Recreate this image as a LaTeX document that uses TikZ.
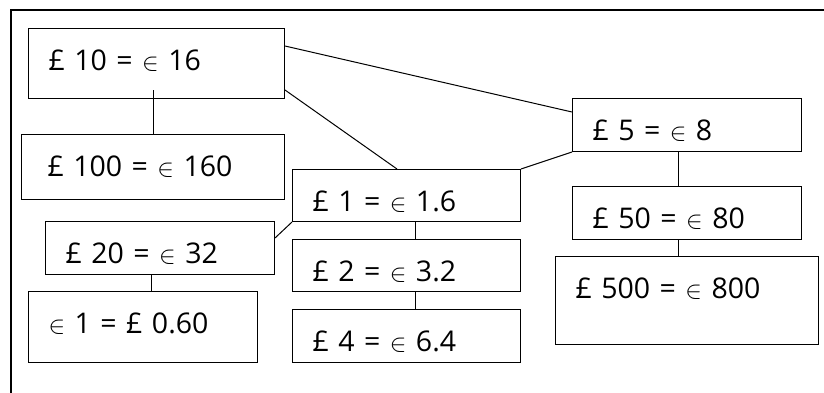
\documentclass[tikz,border=0pt]{standalone}
\usepackage{fontspec}
\setmainfont{Open Sans}
\usepackage{tikz}
\usetikzlibrary{positioning, calc}
\newcommand{\eur}{{\fontsize{33}{33}\selectfont$\in$}}

\begin{document}
\begin{tikzpicture}[
  x=1pt, y=-1pt,
  every node/.style={font=\fontsize{28.5}{32}\selectfont},
  box/.style={
    draw, line width=1pt, anchor=north west, align=left,
    inner xsep=20pt, inner ysep=0pt, text height=42pt
  },
  link/.style={line width=1pt}
]
  \clip (0,0) rectangle (824,392);
  \fill[white] (0,0) rectangle (824,392);

  % Cornice esterna (tagliata a destra e in basso)
  \draw[line width=1.2pt] (11,10) rectangle (900,450);

  % Riquadri a sinistra
  \node[box, text width=216pt, text depth=28pt] (p10) at (28,28) {£ 10 = \eur{} 16};
  \node[box, inner xsep=26pt, text width=211pt, text depth=23pt] (p100) at (21,134) {£ 100 = \eur{} 160};
  \node[box, text width=189pt, text depth=11pt] (p20) at (45,221) {£ 20 = \eur{} 32};
  \node[box, text width=189pt, text depth=29pt] (e1) at (28,291) {\eur{} 1 = £ 0.60};

  % Colonna centrale
  \node[box, text width=188pt, text depth=10pt] (p1) at (292,169) {£ 1 = \eur{} 1.6};
  \node[box, text width=188pt, text depth=10pt] (p2) at (292,239) {£ 2 = \eur{} 3.2};
  \node[box, text width=188pt, text depth=11pt] (p4) at (292,309) {£ 4 = \eur{} 6.4};

  % Colonna destra
  \node[box, text width=189pt, text depth=11pt] (p5) at (572,98) {£ 5 = \eur{} 8};
  \node[box, text width=189pt, text depth=11pt] (p50) at (572,186) {£ 50 = \eur{} 80};
  \node[box, text width=223pt, text depth=46pt] (p500) at (555,256) {£ 500 = \eur{} 800};

  % Collegamenti
  \draw[link] (p100.north) -- ([yshift=9pt]p10.south -| p100.north);
  \draw[link] ([yshift=-18pt]p10.north east) -- ([yshift=-14pt]p5.north west);
  \draw[link] ([yshift=9pt]p10.south east) -- ([xshift=105pt]p1.north west);
  \draw[link] (p5.south west) -- (p1.north east);
  \draw[link] ([xshift=106pt]p5.south west) -- ([xshift=106pt]p50.north west);
  \draw[link] ([xshift=106pt]p50.south west) -- ([xshift=106pt]p50.south west |- p500.north);
  \draw[link] (p1.south west) -- ([yshift=-17pt]p20.north east);
  \draw[link] ([xshift=123pt]p1.south west) -- ([xshift=123pt]p2.north west);
  \draw[link] ([xshift=123pt]p2.south west) -- ([xshift=123pt]p4.north west);
  \draw[link] ([xshift=106pt]p20.south west) -- ([xshift=106pt]p20.south west |- e1.north);

\end{tikzpicture}
\end{document}
